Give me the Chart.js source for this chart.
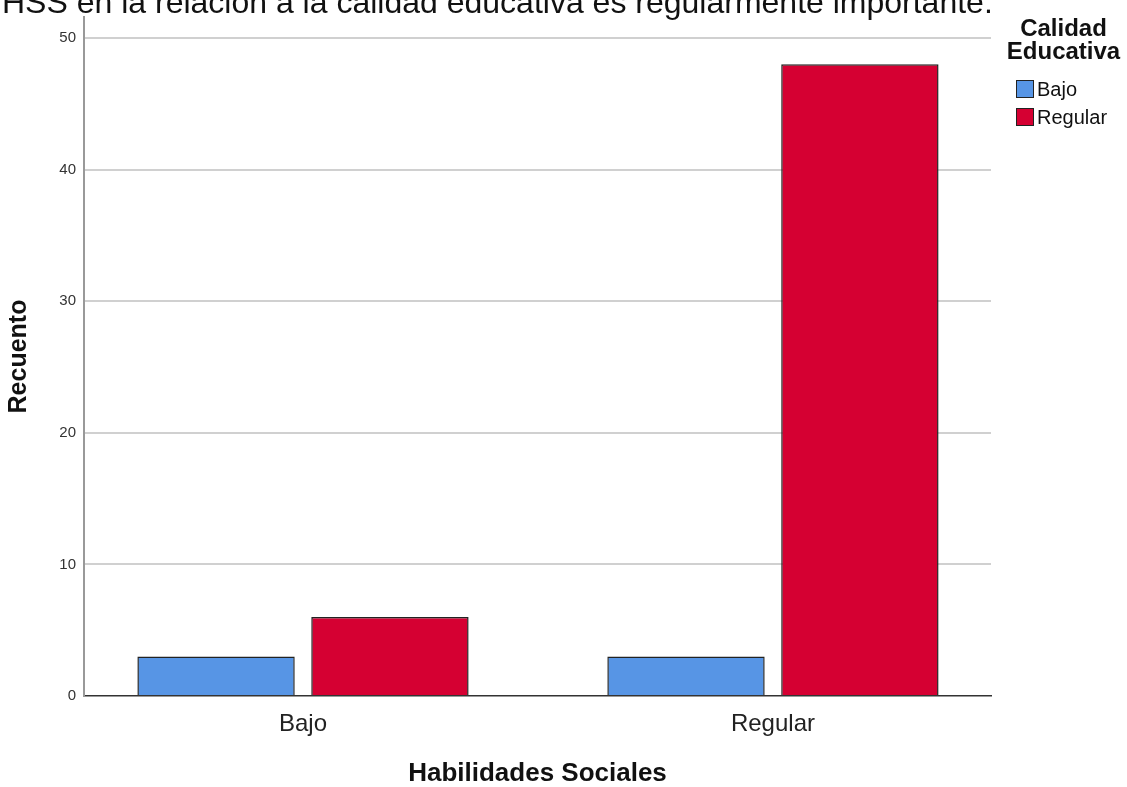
<!DOCTYPE html>
<html>
<head>
<meta charset="utf-8">
<script src="https://cdn.jsdelivr.net/npm/chart.js@4.4.1/dist/chart.umd.min.js"></script>
<style>
  body { margin: 0; background: #fff; font-family: Arial, "Liberation Sans", sans-serif; }
  #wrap { position: relative; width: 1127px; height: 787px; overflow: hidden; }
  #topText { position: absolute; left: 2px; top: -14px; font-size: 32px; line-height: 32px; color: #111; white-space: nowrap; }
  #legend { position: absolute; left: 1000px; top: 16px; width: 127px; }
  #legend .ttl { font-weight: bold; font-size: 24px; line-height: 23px; text-align: center; color: #111; }
  #legend .item { display: flex; align-items: center; font-size: 20px; height: 28px; color: #111; margin-left: 16px; }
  #legend .sw { width: 18px; height: 18px; border: 1.5px solid #222; box-sizing: border-box; margin-right: 3px; }
</style>
</head>
<body>
<div id="wrap">
  <canvas id="chart" width="1127" height="787"></canvas>
  <div id="topText">HSS en la relación a la calidad educativa es regularmente importante.</div>
  <div id="legend"></div>
</div>
<script>
// Data
const categories = ['Bajo', 'Regular'];
const seriesNames = ['Bajo', 'Regular'];
const bajoValues = [3, 3];
const regularValues = [6, 48];
const yTicks = [0, 10, 20, 30, 40, 50];
const colors = ['#5795e5', '#d50032'];

// legend built from the series
const legend = document.getElementById('legend');
legend.innerHTML = '<div class="ttl">Calidad<br>Educativa</div><div style="height:13px"></div>';
seriesNames.forEach((name, i) => {
  legend.innerHTML += '<div class="item"><span class="sw" style="background:' + colors[i] + '"></span>' + name + '</div>';
});

// categories placed on a numeric axis so the spacing can follow the original
const toPoints = vals => vals.map((v, i) => ({ x: i, y: v }));

const ctx = document.getElementById('chart').getContext('2d');
new Chart(ctx, {
  type: 'bar',
  data: {
    datasets: [
      { label: seriesNames[0], data: toPoints(bajoValues), backgroundColor: colors[0], borderColor: '#222', borderWidth: 1.5 },
      { label: seriesNames[1], data: toPoints(regularValues), backgroundColor: colors[1], borderColor: '#222', borderWidth: 1.5 }
    ]
  },
  options: {
    responsive: false,
    animation: false,
    categoryPercentage: 0.74,
    barPercentage: 0.905,
    layout: { padding: { top: 15, right: 136, left: 0, bottom: 0 } },
    plugins: { legend: { display: false }, tooltip: { enabled: false } },
    scales: {
      x: {
        type: 'linear',
        offset: false,
        min: -0.466,
        max: 1.464,
        afterBuildTicks: s => { s.ticks = categories.map((c, i) => ({ value: i })); },
        grid: { display: false, drawTicks: false },
        border: { color: '#333', width: 1.5 },
        ticks: { color: '#222', font: { family: 'Arial', size: 24 }, padding: 14, callback: v => categories[v] },
        title: { display: true, text: 'Habilidades Sociales', color: '#111', font: { family: 'Arial', size: 26, weight: 'bold', lineHeight: 1 }, padding: { top: 0, bottom: 0 } },
        afterFit: s => { s.height = 91; }
      },
      y: {
        min: 0,
        max: 51.6,
        afterBuildTicks: s => { s.ticks = yTicks.map(v => ({ value: v })); },
        grid: { color: c => c.tick.value === 0 ? 'rgba(0,0,0,0)' : '#d0d0d0', lineWidth: 2, drawTicks: false },
        border: { color: '#999', width: 2 },
        ticks: { color: '#333', font: { family: 'Arial', size: 15 }, padding: 8 },
        title: { display: true, text: 'Recuento', color: '#111', font: { family: 'Arial', size: 25, weight: 'bold', lineHeight: 1 }, padding: { top: 7, bottom: 0 } },
        afterFit: s => { s.width = 84; }
      }
    }
  }
});
</script>
</body>
</html>
